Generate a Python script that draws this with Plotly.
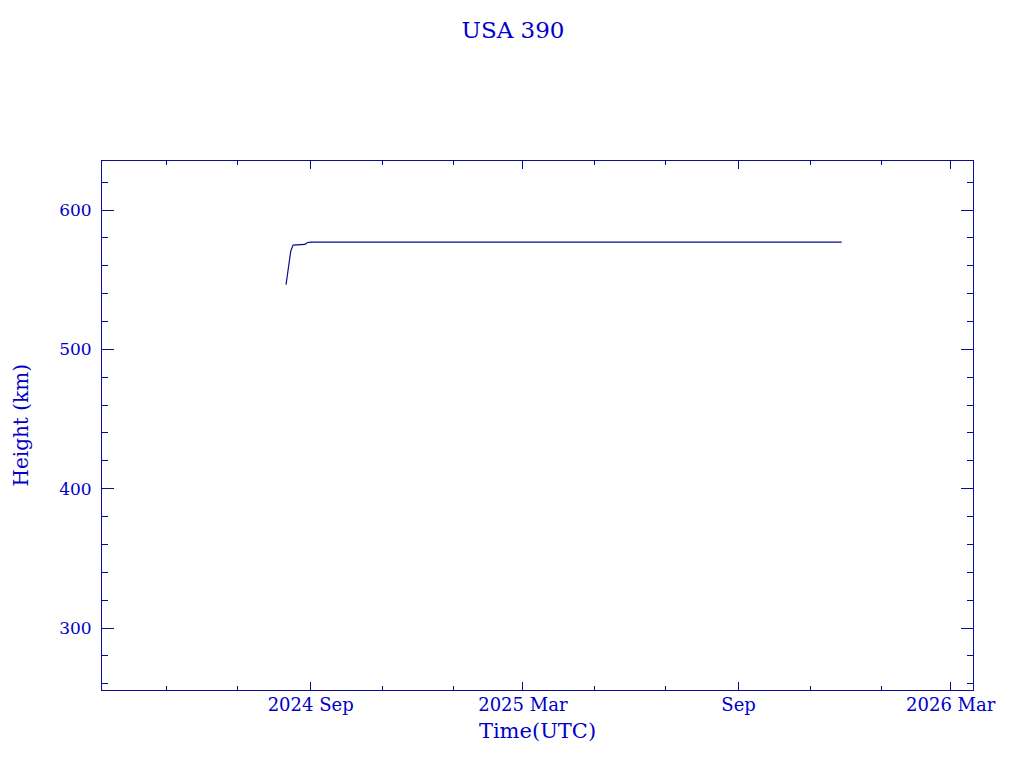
import plotly.graph_objects as go

dates = ["2024-08-11", "2024-08-12", "2024-08-13", "2024-08-14", "2024-08-15",
         "2024-08-17", "2024-08-22", "2024-08-27", "2024-08-29", "2024-09-01",
         "2024-10-15", "2025-01-01", "2025-04-01", "2025-07-01", "2025-10-01",
         "2025-11-28"]
heights = [546.5, 552.0, 558.0, 564.0, 570.5,
           574.8, 575.0, 575.3, 576.5, 577.0,
           577.0, 577.0, 577.0, 577.0, 577.0,
           577.0]

tick_vals = ["2024-09-01", "2025-03-01", "2025-09-01", "2026-03-01"]
tick_text = ["2024 Sep", "2025 Mar", "Sep", "2026 Mar"]

line_col = "#0a0a96"
text_col = "#0000c8"
font_fam = "DejaVu Serif"

fig = go.Figure()
fig.add_trace(go.Scatter(x=dates, y=heights, mode="lines",
                         line=dict(color=line_col, width=1.2),
                         showlegend=False, hoverinfo="skip"))

fig.update_layout(
    width=1024, height=768,
    margin=dict(l=94, r=59, t=153, b=86),
    paper_bgcolor="white", plot_bgcolor="white",
    title=dict(text="USA 390", x=(513 - 8) / 1024, xanchor="center", y=1 - 22 / 768, yanchor="middle",
               font=dict(family=font_fam, size=23, color=text_col)),
    font=dict(family=font_fam, color=text_col),
)
fig.add_annotation(text="Height (km)", xref="paper", yref="paper",
                   x=(12 - 94) / 871, y=0.5, xanchor="center", yanchor="middle",
                   textangle=-90, showarrow=False,
                   font=dict(family=font_fam, size=20, color=text_col))
fig.update_xaxes(
    type="date", range=["2024-03-07", "2026-03-20"],
    tickvals=tick_vals, ticktext=tick_text, automargin=False,
    ticks="inside", ticklen=8, tickwidth=1, tickcolor=line_col,
    showline=True, linecolor=line_col, linewidth=1, mirror="allticks",
    showgrid=False, zeroline=False, ticklabelstandoff=-2,
    tickfont=dict(family=font_fam, size=18, color=text_col),
    title=dict(text="Time(UTC)", font=dict(family=font_fam, size=21, color=text_col), standoff=9),
    minor=dict(ticks="inside", ticklen=4, tickcolor=line_col, dtick="M2",
               tick0="2024-01-01", showgrid=False),
)
fig.update_yaxes(
    range=[255.5, 635.2], tickvals=[300, 400, 500, 600], automargin=False,
    ticks="inside", ticklen=12, tickwidth=1, tickcolor=line_col,
    showline=True, linecolor=line_col, linewidth=1, mirror="allticks",
    showgrid=False, zeroline=False, ticklabelstandoff=6,
    tickfont=dict(family=font_fam, size=17, color=text_col),
    minor=dict(ticks="inside", ticklen=6, tickcolor=line_col, dtick=20, showgrid=False),
)

fig.write_html("out.html")
